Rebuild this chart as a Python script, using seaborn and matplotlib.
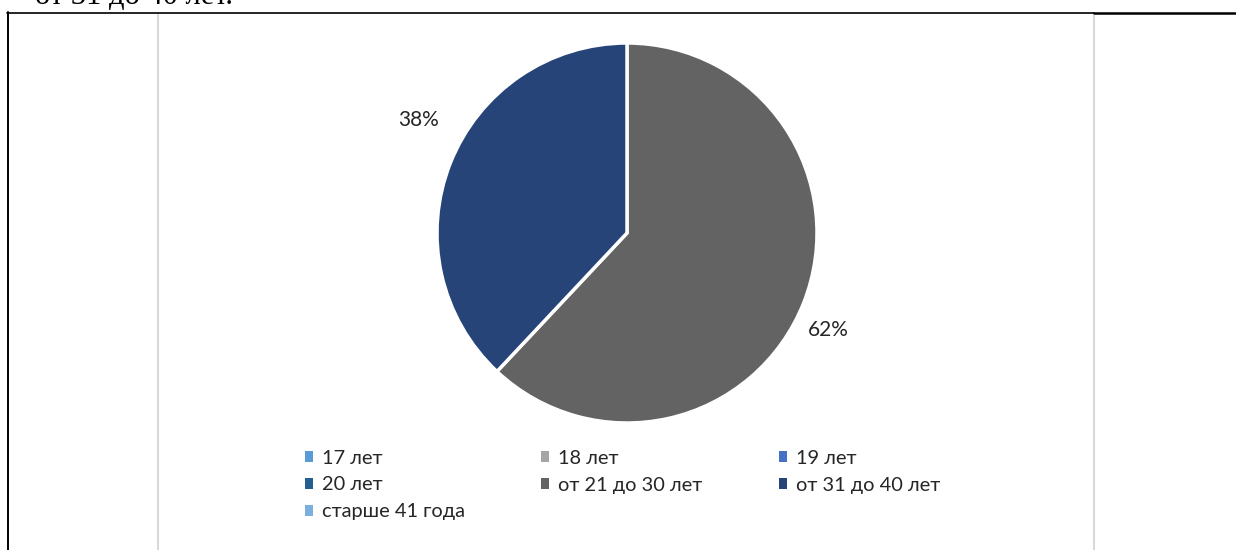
import matplotlib
matplotlib.use("Agg")
import matplotlib.pyplot as plt
import seaborn as sns
import numpy as np
from matplotlib.patches import Patch
from matplotlib.lines import Line2D

sns.set_theme(style="white")
plt.rcParams['font.family'] = ['Lato', 'DejaVu Sans']

categories = ["17 лет", "18 лет", "19 лет", "20 лет",
              "от 21 до 30 лет", "от 31 до 40 лет", "старше 41 года"]
values = [0, 0, 0, 0, 62, 38, 0]
colors = ["#5B9BD5", "#A5A5A5", "#4472C4", "#255E91",
          "#636363", "#264478", "#7CAFDD"]
caption = "от 31 до 40 лет."

W, H = 1236, 550
fig = plt.figure(figsize=(W / 100, H / 100), dpi=100)
renderer = fig.canvas.get_renderer()

def fx(x): return x / W
def fy(y): return 1 - y / H

def fit_size(text, target_px, base=12.0):
    t = fig.text(0, 0, text, fontsize=base)
    w = t.get_window_extent(renderer).width
    t.remove()
    return base * target_px / w

# document frame lines (table borders and chart border)
fig.add_artist(Line2D([fx(158), fx(158)], [fy(13), fy(552)], color="#D9D9D9", lw=1.5))
fig.add_artist(Line2D([fx(1094), fx(1094)], [fy(13), fy(552)], color="#D9D9D9", lw=1.5))
fig.add_artist(Line2D([fx(7), fx(1094)], [fy(12.5), fy(12.5)], color="black", lw=1.2))
fig.add_artist(Line2D([fx(1094), fx(1240)], [fy(12.5), fy(12.5)], color="black", lw=1.8))
fig.add_artist(Line2D([fx(8), fx(8)], [fy(12), fy(552)], color="black", lw=1.4))
fig.text(fx(35), fy(4.5), caption, fontsize=22, family=['Liberation Serif'],
         ha="left", va="baseline", color="black")

# pie
cx, cy, r = 627, 233, 190
ax = fig.add_axes([fx(cx - r), fy(cy + r), 2 * r / W, 2 * r / H])
nz = [(c, v, col) for c, v, col in zip(categories, values, colors) if v > 0]
wedges, texts = ax.pie(
    [v for _, v, _ in nz], colors=[col for _, _, col in nz],
    startangle=90, counterclock=False,
    wedgeprops=dict(edgecolor="white", linewidth=2.5))
total = sum(v for _, v, _ in nz)
label_dist = [1.175, 1.25]
label_turn = [-4.2, -6.8]
for w, (_, v, _), d, t in zip(wedges, nz, label_dist, label_turn):
    ang = np.deg2rad((w.theta1 + w.theta2) / 2 + t)
    ax.text(d * np.cos(ang), d * np.sin(ang), f"{100 * v / total:.0f}%",
            ha="center", va="center", fontsize=15, color="#262626", clip_on=False)
ax.set_xlim(-1, 1)
ax.set_ylim(-1, 1)
ax.set_aspect("equal")

# legend: Excel lays items row by row in equal-width columns
fs = fit_size("от 21 до 30 лет", 145)
fpx = fs * 100 / 72
ncols = 3
col_x = [305, 541, 779]
row_pitch, first_row = 27, 458

def make_legends(ls, top):
    legs = []
    for c in range(ncols):
        idx = list(range(c, len(categories), ncols))
        handles = [Patch(facecolor=colors[i], edgecolor="none") for i in idx]
        legs.append(fig.legend(handles, [categories[i] for i in idx], loc="upper left",
                               bbox_to_anchor=(fx(col_x[c]), fy(top)), frameon=False,
                               fontsize=fs, handlelength=0.42, handleheight=0.42,
                               handletextpad=(17 - 0.42 * fpx) / fpx, labelspacing=ls,
                               borderaxespad=0, borderpad=0, labelcolor="#262626"))
    return legs

def row_centers(leg):
    out = []
    for t in leg.get_texts():
        bb = t.get_window_extent(renderer)
        out.append(H - (bb.y0 + bb.height / 2))
    return out

ls, top = 0.3, 448
legs = make_legends(ls, top)
fig.canvas.draw()
ys = row_centers(legs[0])
for l in legs:
    l.remove()
ls = ls + (row_pitch - (ys[1] - ys[0])) / fpx
legs = make_legends(ls, top)
fig.canvas.draw()
ys = row_centers(legs[0])
for l in legs:
    l.remove()
legs = make_legends(ls, top + first_row - ys[0])

fig.savefig("out.png", dpi=100, facecolor="white")
